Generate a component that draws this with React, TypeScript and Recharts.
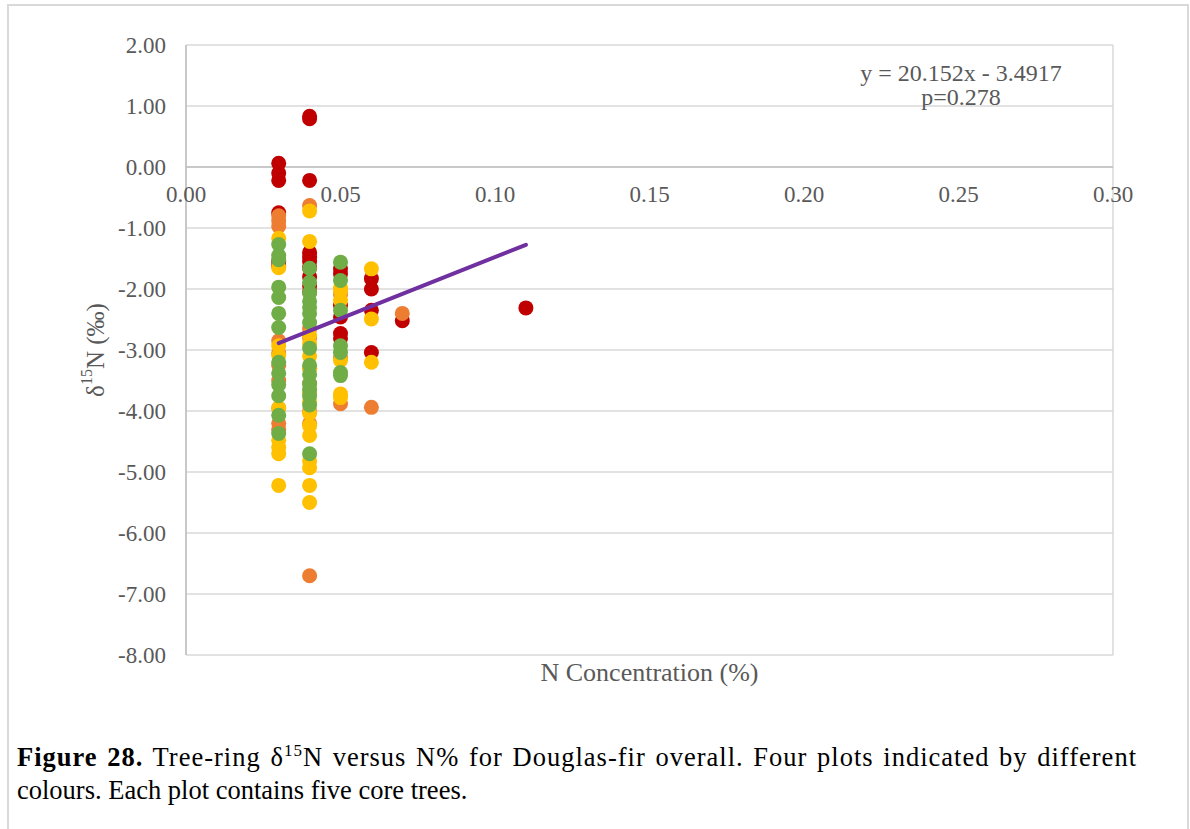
import {
  ScatterChart,
  Scatter,
  XAxis,
  YAxis,
  CartesianGrid,
  ReferenceLine,
  ReferenceDot,
} from 'recharts';

type Group = [number, number[]];
type Pt = { n: number; d15n: number };

const FONT = "'Liberation Serif', 'Times New Roman', serif";
const GREY_TEXT = '#595959';
const DOT_R = 7.5;

const xTicks = [0, 0.05, 0.1, 0.15, 0.2, 0.25, 0.3];
const yTicks = [-8, -7, -6, -5, -4, -3, -2, -1, 0, 1, 2];

// δ15N values (‰) grouped by N concentration (%), one list per plot
const plot1: Group[] = [
  [0.03, [0.06, -0.1, -0.22, -0.75, -1.55, -1.62]],
  [0.04, [0.83, 0.79, -0.22, -1.4, -1.48, -1.55, -1.65, -1.8, -1.95, -2.05]],
  [0.05, [-1.67, -1.75, -2.27, -2.46, -2.73, -2.81]],
  [0.06, [-1.83, -2.0, -2.35, -3.04]],
  [0.07, [-2.52]],
  [0.11, [-2.31]],
];

const plot2: Group[] = [
  [0.03, [-0.8, -0.88, -0.97, -2.85, -3.05, -3.25, -3.5, -3.95, -4.2, -4.3]],
  [0.04, [-0.63, -2.65, -2.8, -3.3, -3.55, -4.0, -4.2, -6.7]],
  [0.05, [-2.08, -3.12, -3.88]],
  [0.06, [-3.94]],
  [0.07, [-2.4]],
];

const plot3: Group[] = [
  [0.03, [-1.17, -1.65, -2.93, -3.09, -3.95, -4.48, -4.6, -4.7, -5.22]],
  [0.04, [-0.72, -1.22, -2.76, -2.9, -3.1, -3.3, -3.7, -3.85, -4.04, -4.24, -4.4, -4.82, -4.93, -5.22, -5.5]],
  [0.05, [-1.98, -2.03, -2.19, -3.17, -3.72, -3.78]],
  [0.06, [-1.67, -2.49, -3.2]],
];

const plot4: Group[] = [
  [0.03, [-1.27, -1.45, -1.52, -1.97, -2.14, -2.4, -2.63, -3.2, -3.38, -3.57, -3.75, -4.07, -4.37]],
  [0.04, [-1.66, -1.89, -2.06, -2.2, -2.3, -2.4, -2.55, -2.97, -3.25, -3.4, -3.55, -3.65, -3.75, -3.9, -4.7]],
  [0.05, [-1.56, -1.86, -2.35, -2.93, -3.04, -3.37, -3.42]],
];

// linear fit over all trees
const slope = 20.152;
const intercept = -3.4917;
const pValue = 0.278;

const toPoints = (groups: Group[]): Pt[] =>
  groups.flatMap(([n, vals]) => vals.map((d15n) => ({ n, d15n })));

const series = [
  { name: 'Plot 1', color: '#C00000', data: toPoints(plot1) },
  { name: 'Plot 2', color: '#ED7D31', data: toPoints(plot2) },
  { name: 'Plot 3', color: '#FFC000', data: toPoints(plot3) },
  { name: 'Plot 4', color: '#70AD47', data: toPoints(plot4) },
];

const allN = series.flatMap((s) => s.data.map((p) => p.n));
const fitLine: Pt[] = [Math.min(...allN), Math.max(...allN)].map((n) => ({
  n,
  d15n: slope * n + intercept,
}));

const fmtIntercept = intercept < 0 ? `- ${Math.abs(intercept)}` : `+ ${intercept}`;

function YTitle({ viewBox }: any) {
  const cx = viewBox.x - 31;
  const cy = viewBox.y + viewBox.height / 2;
  return (
    <text
      x={cx}
      y={cy}
      transform={`rotate(-90, ${cx}, ${cy})`}
      textAnchor="middle"
      dominantBaseline="central"
      fill={GREY_TEXT}
      fontSize={25}
      fontFamily={FONT}
    >
      δ
      <tspan dy={-9} fontSize={16}>
        15
      </tspan>
      <tspan dy={9}>N (‰)</tspan>
    </text>
  );
}

export default function App() {
  return (
    <div
      style={{
        position: 'absolute',
        left: 0,
        top: 0,
        width: 1190,
        height: 829,
        overflow: 'hidden',
        background: '#fff',
        fontFamily: FONT,
      }}
    >
      <div
        style={{
          position: 'absolute',
          left: 7,
          top: 4,
          width: 1178,
          height: 900,
          border: '2px solid #d9d9d9',
        }}
      />
      <div style={{ position: 'absolute', left: 0, top: 0 }}>
        <ScatterChart
          width={1190}
          height={720}
          margin={{ top: 45, right: 77, left: 126, bottom: 25 }}
        >
          <CartesianGrid stroke="#d9d9d9" strokeWidth={1.5} />
          <XAxis
            type="number"
            dataKey="n"
            domain={[0, 0.3]}
            ticks={xTicks}
            tick={false}
            axisLine={false}
            tickLine={false}
            height={40}
            label={{
              value: 'N Concentration (%)',
              position: 'insideTop',
              offset: 8,
              fill: GREY_TEXT,
              fontSize: 26,
              fontFamily: FONT,
            }}
          />
          <YAxis
            type="number"
            dataKey="d15n"
            domain={[-8, 2]}
            ticks={yTicks}
            interval={0}
            width={60}
            tickFormatter={(v: number) => v.toFixed(2)}
            axisLine={{ stroke: '#bfbfbf', strokeWidth: 1.5 }}
            tickLine={false}
            tickSize={0}
            tickMargin={20}
            tick={{ fill: GREY_TEXT, fontSize: 23, fontFamily: FONT }}
            label={(props: any) => <YTitle {...props} />}
          />
          <ReferenceLine y={0} stroke="#bfbfbf" strokeWidth={1.5} />
          {series.map((s) => (
            <Scatter
              key={s.name}
              name={s.name}
              data={s.data}
              fill={s.color}
              shape={(p: any) => <circle cx={p.cx} cy={p.cy} r={DOT_R} fill={s.color} />}
              isAnimationActive={false}
            />
          ))}
          <Scatter
            name="Linear fit"
            data={fitLine}
            line={{ stroke: '#7030A0', strokeWidth: 4, strokeLinecap: 'round' }}
            shape={() => <g />}
            isAnimationActive={false}
          />
          {xTicks.map((t) => (
            <ReferenceDot
              key={t}
              x={t}
              y={0}
              r={0}
              fill="none"
              stroke="none"
              label={{
                value: t.toFixed(2),
                position: 'bottom',
                offset: 19,
                fill: GREY_TEXT,
                fontSize: 23,
                fontFamily: FONT,
              }}
            />
          ))}
        </ScatterChart>
      </div>
      <div
        style={{
          position: 'absolute',
          left: 761,
          top: 61,
          width: 400,
          textAlign: 'center',
          fontSize: 24,
          lineHeight: '24px',
          color: GREY_TEXT,
        }}
      >
        y = {slope}x {fmtIntercept}
        <br />
        p={pValue}
      </div>
      <div
        style={{
          position: 'absolute',
          left: 17,
          top: 741,
          width: 1120,
          fontSize: 26.5,
          lineHeight: '33px',
          color: '#000',
        }}
      >
        <div style={{ textAlign: 'justify', textAlignLast: 'justify', letterSpacing: 1 }}>
          <b>Figure 28.</b> Tree-ring δ
          <sup style={{ fontSize: 17, lineHeight: 0 }}>15</sup>N versus N% for Douglas-fir
          overall. Four plots indicated by different
        </div>
        <div>colours. Each plot contains five core trees.</div>
      </div>
    </div>
  );
}
